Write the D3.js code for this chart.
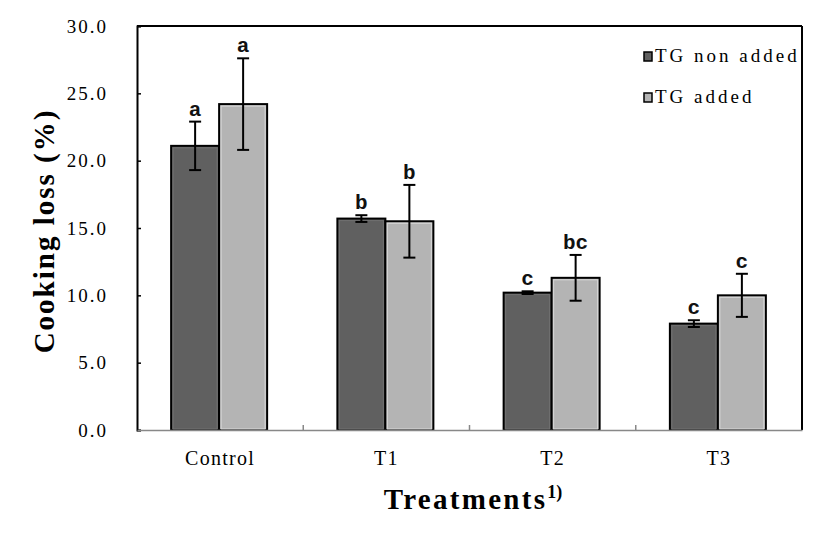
<!DOCTYPE html>
<html><head><meta charset="utf-8">
<script src="https://cdn.jsdelivr.net/npm/d3@7"></script>
<style>body{margin:0;background:#fff}</style>
</head><body>
<svg id="c" width="827" height="539"></svg>
<script>
const categories = ["Control", "T1", "T2", "T3"];
const seriesNames = ["TG non added", "TG added"];
const nonAdded = [21.1, 15.7, 10.2, 7.9];
const nonAddedSD = [1.8, 0.25, 0.1, 0.25];
const added = [24.2, 15.5, 11.3, 10.0];
const addedSD = [3.4, 2.7, 1.7, 1.6];
const nonAddedLetters = ["a", "b", "c", "c"];
const addedLetters = ["a", "b", "bc", "c"];
const yTicks = [0, 5, 10, 15, 20, 25, 30];

const SERIF = "'Liberation Serif', 'Times New Roman', serif";
const MONO = "'Liberation Mono', 'Courier New', monospace";

const svg = d3.select("#c");
const L = 137, R = 802, T = 26, B = 430;
const x = d3.scaleBand().domain(categories).range([L, R]).paddingInner(0).paddingOuter(0);
const y = d3.scaleLinear().domain([0, 30]).range([B, T]);
const colors = ["#606060", "#b4b4b4"];
const barW = 48;

const data = [];
categories.forEach((c, i) => {
  data.push({c, s: 0, v: nonAdded[i], sd: nonAddedSD[i], l: nonAddedLetters[i]});
  data.push({c, s: 1, v: added[i], sd: addedSD[i], l: addedLetters[i]});
});
const cx = d => x(d.c) + x.bandwidth() / 2 + (d.s === 0 ? -barW : 0) - 1;

// frame
svg.append("line").attr("x1", L).attr("x2", R).attr("y1", T).attr("y2", T).attr("stroke", "#000").attr("stroke-width", 2);
svg.append("line").attr("x1", R).attr("x2", R).attr("y1", T).attr("y2", B).attr("stroke", "#000").attr("stroke-width", 2);

// y axis
const ya = svg.append("g").attr("transform", `translate(${L},0)`)
  .call(d3.axisLeft(y).tickValues(yTicks).tickSize(-4).tickPadding(29).tickFormat(d3.format(".1f")));
ya.select(".domain").attr("stroke", "#000").attr("stroke-width", 2);
ya.selectAll(".tick line").attr("stroke", "#000").attr("stroke-width", 1.5);
ya.selectAll("text").style("font-family", SERIF).style("font-size", "19px").style("letter-spacing", "2px").attr("fill", "#000");

// bars
svg.selectAll("rect.bar").data(data).enter().append("rect").attr("class", "bar")
  .attr("x", cx).attr("width", barW)
  .attr("y", d => y(d.v)).attr("height", d => B - y(d.v))
  .attr("fill", d => colors[d.s]).attr("stroke", "#000").attr("stroke-width", 2);
// light inner outline on bars
svg.selectAll("rect.inner").data(data).enter().append("rect").attr("class", "inner")
  .attr("x", d => cx(d) + 2).attr("width", barW - 4)
  .attr("y", d => y(d.v) + 2).attr("height", d => Math.max(0, B - y(d.v) - 3))
  .attr("fill", "none").attr("stroke", d => d.s === 1 ? "#d8d8d8" : "#707070").attr("stroke-width", 1);

// x axis
const xa = svg.append("g").attr("transform", `translate(0,${B})`)
  .call(d3.axisBottom(x).tickSize(0).tickPadding(21));
xa.select(".domain").attr("stroke", "#888").attr("stroke-width", 1.5);
xa.selectAll("text").style("font-family", SERIF).style("font-size", "20px").style("letter-spacing", "1.3px").attr("fill", "#000");
svg.selectAll("line.sep").data(categories.slice(1)).enter().append("line").attr("class", "sep")
  .attr("x1", d => x(d)).attr("x2", d => x(d)).attr("y1", B).attr("y2", B - 5)
  .attr("stroke", "#888").attr("stroke-width", 1.5);

// error bars
const eb = svg.selectAll("g.err").data(data).enter().append("g").attr("class", "err").attr("stroke", "#000").attr("stroke-width", 2);
eb.append("line").attr("x1", d => cx(d) + barW / 2).attr("x2", d => cx(d) + barW / 2)
  .attr("y1", d => y(d.v + d.sd)).attr("y2", d => y(d.v - d.sd));
eb.append("line").attr("x1", d => cx(d) + barW / 2 - 6).attr("x2", d => cx(d) + barW / 2 + 6)
  .attr("y1", d => y(d.v + d.sd)).attr("y2", d => y(d.v + d.sd));
eb.append("line").attr("x1", d => cx(d) + barW / 2 - 6).attr("x2", d => cx(d) + barW / 2 + 6)
  .attr("y1", d => y(d.v - d.sd)).attr("y2", d => y(d.v - d.sd));

// letters
svg.selectAll("text.let").data(data).enter().append("text").attr("class", "let")
  .attr("x", d => cx(d) + barW / 2).attr("y", d => y(d.v + d.sd) - 6)
  .attr("text-anchor", "middle").style("font-family", MONO).style("font-size", "21px").style("font-weight", "bold")
  .attr("fill", "#111").text(d => d.l);

// legend
const lg = svg.selectAll("g.lg").data(seriesNames).enter().append("g").attr("class", "lg")
  .attr("transform", (d, i) => `translate(644,${52 + i * 41})`);
lg.append("rect").attr("width", 8).attr("height", 9).attr("fill", (d, i) => colors[i]).attr("stroke", "#000").attr("stroke-width", 1.5);
lg.append("text").attr("x", 11).attr("y", 10).style("font-family", SERIF).style("font-size", "19px").style("letter-spacing", "3px")
  .attr("fill", "#000").text(d => d);

// axis titles
const xt = svg.append("text").attr("x", 473).attr("y", 509).attr("text-anchor", "middle")
  .style("font-family", SERIF).style("font-weight", "bold").style("font-size", "29px").attr("fill", "#000");
xt.append("tspan").style("letter-spacing", "2.3px").text("Treatments");
xt.append("tspan").style("font-size", "18px").attr("dy", -11).text("1)");
svg.append("text").attr("transform", "translate(54,231) rotate(-90)").attr("text-anchor", "middle")
  .style("font-family", SERIF).style("font-weight", "bold").style("font-size", "29px").style("letter-spacing", "2px").attr("fill", "#000")
  .text("Cooking loss (%)");
</script>
</body></html>
